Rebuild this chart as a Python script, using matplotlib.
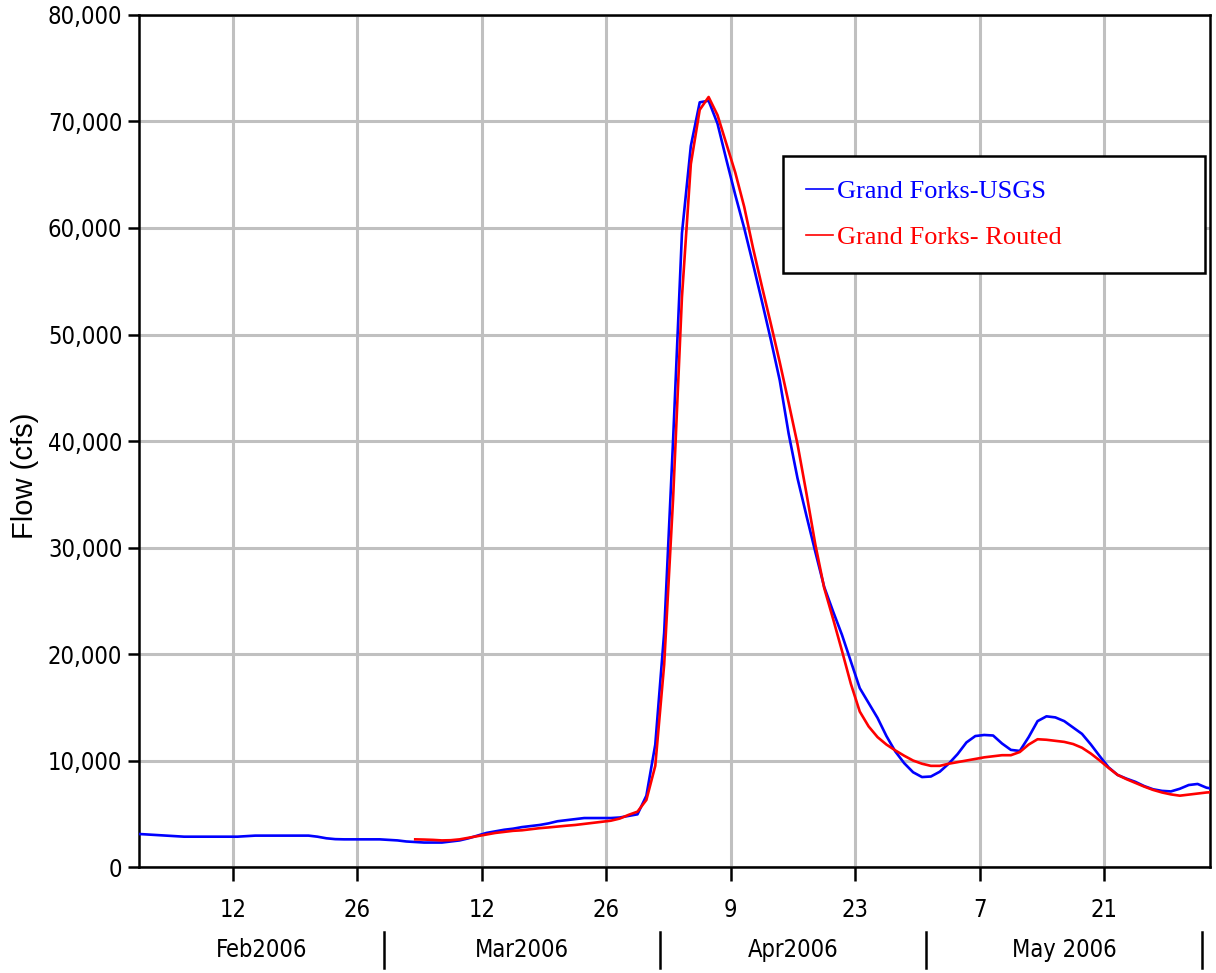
import pandas as pd
import matplotlib
matplotlib.use("Agg")
import matplotlib.pyplot as plt
import matplotlib.dates as mdates
from matplotlib import font_manager
from matplotlib.ticker import FuncFormatter, MultipleLocator, FixedLocator

# daily flows (cfs), first value is Feb 1 2006
usgs_flow = [3100, 3050, 3000, 2950, 2900, 2850, 2850, 2850, 2850, 2850,
             2850, 2850, 2900, 2950, 2950, 2950, 2950, 2950, 2950, 2950,
             2850, 2700, 2620, 2600, 2600, 2600, 2600, 2600, 2550, 2500,
             2400, 2350, 2300, 2300, 2300, 2400, 2500, 2700, 2950, 3200,
             3350, 3500, 3600, 3750, 3850, 3950, 4100, 4300, 4400, 4500,
             4600, 4600, 4600, 4600, 4650, 4800, 4950, 6700, 11500, 22000,
             40000, 59500, 67700, 71800, 71950, 69800, 66400, 63100, 60000, 56600,
             53100, 49500, 45700, 40700, 36500, 33000, 29600, 26300, 24000, 21800,
             19300, 16800, 15400, 14000, 12300, 10850, 9750, 8900, 8450, 8500,
             8950, 9700, 10600, 11700, 12300, 12400, 12350, 11600, 11000, 10900,
             12200, 13700, 14150, 14050, 13700, 13100, 12500, 11500, 10400, 9350,
             8650, 8300, 8000, 7600, 7300, 7150, 7100, 7350, 7700, 7800,
             7450, 7300]

# routed flow starts on Mar 4 2006 (day index 31)
routed_start = 31
routed_flow = [2600, 2580, 2550, 2500, 2520, 2600, 2750, 2900, 3050,
               3200, 3300, 3400, 3450, 3550, 3650, 3720, 3800, 3880, 3950,
               4050, 4150, 4250, 4350, 4550, 4900, 5200, 6300, 9500, 19000,
               34500, 53500, 66000, 71100, 72300, 70600, 67900, 65200, 62000, 58100,
               54500, 51000, 47400, 43600, 39700, 35100, 30300, 26200, 23300, 20300,
               17200, 14600, 13200, 12200, 11500, 10950, 10450, 10000, 9700, 9500,
               9500, 9700, 9850, 10000, 10150, 10300, 10400, 10500, 10500, 10800,
               11500, 12000, 11950, 11850, 11750, 11550, 11200, 10650, 10000, 9300,
               8650, 8250, 7900, 7550, 7240, 7000, 6820, 6700, 6800, 6900,
               7000, 7050]

tick_days = ["2006-02-12", "2006-02-26", "2006-03-12", "2006-03-26",
             "2006-04-09", "2006-04-23", "2006-05-07", "2006-05-21"]
month_starts = ["2006-02-01", "2006-03-01", "2006-04-01", "2006-05-01", "2006-06-01"]
month_names = ["Feb2006", "Mar2006", "Apr2006", "May 2006"]

usgs_dates = pd.date_range("2006-02-01 12:00", periods=len(usgs_flow), freq="D")
routed_dates = usgs_dates[routed_start:routed_start + len(routed_flow)]

# the original uses a narrow sans; take one if it is installed
fonts = {(f.name, f.stretch) for f in font_manager.fontManager.ttflist}
if any(n == "Liberation Sans Narrow" for n, s in fonts):
    tick_font = dict(family=["Liberation Sans Narrow", "DejaVu Sans"], fontsize=19.5)
elif ("DejaVu Sans", "condensed") in fonts or ("DejaVu Sans", 600) in fonts:
    tick_font = dict(family=["DejaVu Sans"], fontstretch="condensed", fontsize=17)
else:
    tick_font = dict(family=["Liberation Sans", "DejaVu Sans"], fontsize=18)

fig = plt.figure(figsize=(12.16, 9.73), dpi=100)
ax = fig.add_axes([0.1143, 0.1089, 0.8808, 0.8757])

ax.plot(usgs_dates, usgs_flow, color="#0000ff", lw=1.9, label="Grand Forks-USGS", zorder=3)
ax.plot(routed_dates, routed_flow, color="#ff0000", lw=1.9, label="Grand Forks- Routed", zorder=3)

x0 = pd.Timestamp("2006-02-01") + pd.Timedelta(hours=10.3)
x1 = pd.Timestamp("2006-06-01") + pd.Timedelta(hours=21.6)
ax.set_xlim(x0, x1)
ax.set_ylim(0, 80000)

ax.yaxis.set_major_locator(MultipleLocator(10000))
ax.yaxis.set_major_formatter(FuncFormatter(lambda v, p: f"{int(v):,}"))
ax.xaxis.set_major_locator(FixedLocator(mdates.date2num(pd.to_datetime(tick_days))))
ax.xaxis.set_major_formatter(FuncFormatter(lambda v, p: str(mdates.num2date(v).day)))

ax.grid(True, color="#c0c0c0", lw=2.2)
ax.set_axisbelow(True)
for s in ax.spines.values():
    s.set_linewidth(1.8)
    s.set_color("black")

ax.tick_params(axis="x", direction="out", length=10, width=1.8, pad=12)
ax.tick_params(axis="y", direction="out", length=8, width=1.8, pad=4)
for lab in ax.get_xticklabels() + ax.get_yticklabels():
    lab.set(**tick_font)

ax.set_ylabel("Flow (cfs)", fontsize=21, family=["Liberation Sans", "DejaVu Sans"])
ax.yaxis.set_label_coords(-0.093, 0.459)

# month row under the day ticks
trans = ax.get_xaxis_transform()
ms = pd.to_datetime(month_starts)
for i, name in enumerate(month_names):
    a = max(ms[i], x0)
    b = min(ms[i + 1], x1)
    mid = a + (b - a) / 2
    ax.text(mid, -0.097, name, transform=trans, ha="center", va="center",
            clip_on=False, **tick_font)
for d in ms[1:]:
    ax.plot([d, d], [-0.0763, -0.1185], transform=trans, color="black",
            lw=1.8, clip_on=False)

leg = ax.legend(loc="upper left", bbox_to_anchor=(0.601, 0.698, 0.394, 0.1365),
                mode="expand", borderaxespad=0, fancybox=False, framealpha=1,
                edgecolor="black", prop={"family": "Liberation Serif", "size": 19},
                labelcolor="linecolor", handlelength=1.0, handletextpad=0.15,
                labelspacing=0.85, borderpad=0.9)
leg.get_frame().set_linewidth(1.8)
for h in leg.get_lines():
    h.set_linewidth(1.2)

fig.savefig("out.png", dpi=100)
